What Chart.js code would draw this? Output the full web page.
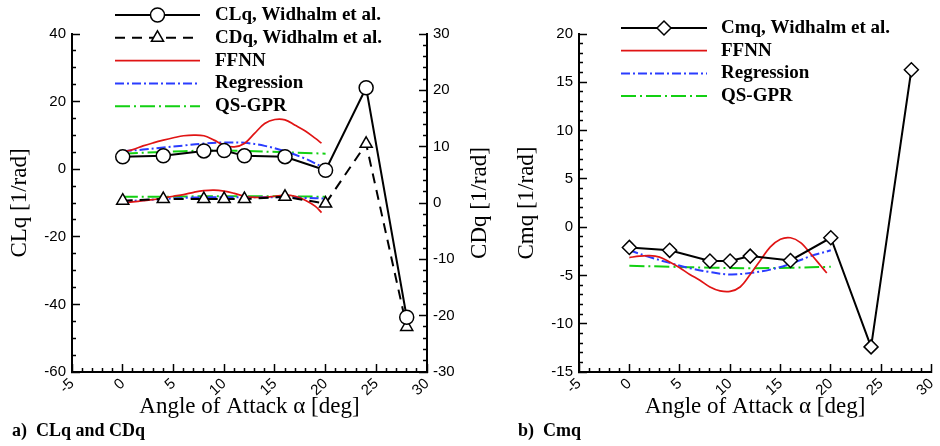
<!DOCTYPE html>
<html>
<head>
<meta charset="utf-8">
<script src="https://cdn.jsdelivr.net/npm/chart.js@4.4.1/dist/chart.umd.min.js"></script>
<style>
  html, body { margin: 0; padding: 0; background: #fff; overflow: hidden; }
  #wrap { position: relative; width: 940px; height: 446px; }
  canvas { position: absolute; top: 0; }
  .caption { position: absolute; top: 420px; font: bold 18px "Liberation Serif", serif; white-space: pre; }
</style>
</head>
<body>
<div id="wrap">
  <canvas id="left-canvas" width="500" height="446" style="left:0px"></canvas>
  <canvas id="right-canvas" width="440" height="446" style="left:500px"></canvas>
  <div class="caption" style="left:12px">a)  CLq and CDq</div>
  <div class="caption" style="left:518px">b)  Cmq</div>
</div>
<script>
// experiment, Widhalm et al.
const alphaExp = [0, 4, 8, 10, 12, 16, 20, 24, 28];
const clqExp = [3.65, 3.95, 5.4, 5.5, 3.95, 3.7, -0.3, 24.1, -43.8];
const cdqExp = [0.4, 0.7, 0.7, 0.7, 0.7, 1.1, -0.1, 10.5, -22.0];
const cmqExp = [-2.1, -2.4, -3.5, -3.5, -3.0, -3.45, -1.1, -12.4, 16.3];

// FFNN
const alphaFfnn = [0, 1, 2, 3, 4, 5, 6, 7, 8, 9, 10, 11, 12, 13, 14, 15, 16, 17, 18, 19, 19.6];
const clqFfnn = [5.2, 5.8, 6.9, 7.8, 8.6, 9.3, 9.9, 10.1, 9.9, 8.6, 7.1, 6.6, 7.6, 10.6, 13.5, 14.7, 14.6, 13.0, 11.3, 9.1, 7.7];
const cdqFfnn = [0.0, 0.2, 0.4, 0.6, 0.9, 1.2, 1.5, 1.9, 2.2, 2.3, 2.1, 1.7, 1.2, 1.0, 1.0, 1.2, 1.4, 1.2, 0.5, -0.6, -1.7];
const cmqFfnn = [-3.15, -3.0, -2.95, -3.1, -3.6, -4.2, -4.9, -5.5, -6.2, -6.6, -6.65, -6.2, -4.9, -3.45, -2.05, -1.25, -1.1, -1.6, -2.75, -4.0, -4.75];

// Regression
const alphaReg = [0, 2, 4, 6, 8, 10, 12, 14, 16, 18, 20];
const clqReg = [5.3, 5.8, 6.4, 7.0, 7.6, 7.9, 7.8, 6.9, 5.3, 3.1, 0.2];
const cdqReg = [0.3, 0.5, 0.7, 0.9, 1.0, 1.0, 1.0, 1.0, 1.0, 0.9, 0.8];
const cmqReg = [-2.4, -3.1, -3.7, -4.25, -4.65, -4.9, -4.75, -4.4, -3.8, -3.0, -2.4];

// QS-GPR
const alphaGpr = [0, 4, 8, 12, 16, 20];
const clqGpr = [4.6, 5.1, 5.5, 5.4, 5.0, 4.6];
const cdqGpr = [1.1, 1.1, 1.2, 1.2, 1.2, 1.1];
const cmqGpr = [-4.0, -4.1, -4.2, -4.25, -4.2, -4.1];

const RED = '#e01414';
const BLUE = '#2a3cff';
const GREEN = '#12d012';

function pts(xs, ys) {
    return xs.map((x, i) => ({x: x, y: ys[i]}));
}

Chart.defaults.font.family = '"Liberation Sans", Arial, sans-serif';
Chart.defaults.font.size = 15;
Chart.defaults.color = '#000';

const TICK_LEN = 8;

function isMajor(v, major) {
    return Math.abs(v / major - Math.round(v / major)) < 1e-6;
}

// inward tick marks via a negative tickLength; minor ones shortened with a dash
// (left axes draw their ticks from the inner end, the others from the axis side)
function tickGrid(major, fromInner) {
    return {
        display: true,
        drawOnChartArea: false,
        drawTicks: true,
        tickLength: -TICK_LEN,
        tickColor: '#000',
        tickWidth: 1.5,
        tickBorderDash: c => {
            if (!c.tick || isMajor(c.tick.value, major)) return [];
            return fromInner ? [0, 4, 6, 100] : [5, 100];
        }
    };
}

function tickLabels(major, minor, pad) {
    return {
        stepSize: minor,
        autoSkip: false,
        padding: pad + TICK_LEN,
        callback: v => isMajor(v, major) ? String(v) : ''
    };
}

// Tecplot style line legend (+ rotated right-axis title)
function makeLegend(pos, sideTitle) {
    return {
        id: 'lineLegend',
        afterDraw(chart) {
            const ctx = chart.ctx;
            let row = 0;
            ctx.save();
            chart.data.datasets.forEach(ds => {
                if (ds.legend === false) return;
                const y = pos.y0 + row * pos.dy;
                ctx.strokeStyle = ds.borderColor;
                ctx.lineWidth = ds.borderWidth;
                ctx.setLineDash(ds.borderDash || []);
                ctx.beginPath();
                ctx.moveTo(pos.x0, y);
                ctx.lineTo(pos.x1, y);
                ctx.stroke();
                if (ds.pointRadius > 0) {
                    ctx.setLineDash([]);
                    ctx.fillStyle = ds.pointBackgroundColor;
                    ctx.strokeStyle = ds.pointBorderColor;
                    ctx.lineWidth = ds.pointBorderWidth;
                    Chart.helpers.drawPoint(ctx, {
                        pointStyle: ds.pointStyle, radius: ds.pointRadius,
                        borderWidth: ds.pointBorderWidth, rotation: 0
                    }, (pos.x0 + pos.x1) / 2, y);
                }
                ctx.fillStyle = '#000';
                ctx.font = 'bold 19px "Liberation Serif", serif';
                ctx.textBaseline = 'middle';
                ctx.textAlign = 'left';
                ctx.fillText(ds.label, pos.textX, y);
                row++;
            });
            if (sideTitle) {
                ctx.translate(sideTitle.x, sideTitle.y);
                ctx.rotate(-Math.PI / 2);
                ctx.font = '23px "Liberation Serif", serif';
                ctx.textAlign = 'center';
                ctx.textBaseline = 'middle';
                ctx.fillStyle = '#000';
                ctx.fillText(sideTitle.text, 0, 0);
            }
            ctx.restore();
        }
    };
}

function expSet(label, xs, ys, style, dash, axis) {
    return {
        label: label, data: pts(xs, ys), yAxisID: axis,
        borderColor: '#000', borderWidth: 2, borderDash: dash,
        pointStyle: style, pointRadius: 7, pointBorderWidth: 1.5,
        pointBackgroundColor: '#fff', pointBorderColor: '#000',
        tension: 0
    };
}

function fitSet(label, xs, ys, color, dash, axis, legend) {
    return {
        label: label, data: pts(xs, ys), yAxisID: axis, legend: legend,
        borderColor: color, borderWidth: color === RED ? 1.7 : 2, borderDash: dash,
        pointRadius: 0, tension: 0.35
    };
}

const axisTitleFont = {family: '"Liberation Serif", serif', size: 23};
const axisBorder = {display: true, color: '#000', width: 2};

function xScale() {
    return {
        type: 'linear', position: 'bottom', min: -5, max: 30,
        ticks: tickLabels(5, 1, 3),
        grid: tickGrid(5, false),
        border: axisBorder,
        title: {display: true, text: 'Angle of Attack α [deg]', font: axisTitleFont, color: '#000',
                padding: {top: 0, bottom: 25}},
        afterFit: s => { s.height = 74; s.paddingLeft = 0; s.paddingRight = 0; }
    };
}

const leftChart = new Chart(document.getElementById('left-canvas'), {
    type: 'line',
    data: {
        datasets: [
            expSet('CLq, Widhalm et al.', alphaExp, clqExp, 'circle', [], 'y'),
            expSet('CDq, Widhalm et al.', alphaExp, cdqExp, 'triangle', [10, 7], 'y2'),
            fitSet('FFNN', alphaFfnn, clqFfnn, RED, [], 'y', true),
            fitSet('Regression', alphaReg, clqReg, BLUE, [9, 3, 2, 3], 'y', true),
            fitSet('QS-GPR', alphaGpr, clqGpr, GREEN, [15, 4, 2, 4], 'y', true),
            fitSet('FFNN', alphaFfnn, cdqFfnn, RED, [], 'y2', false),
            fitSet('Regression', alphaReg, cdqReg, BLUE, [9, 3, 2, 3], 'y2', false),
            fitSet('QS-GPR', alphaGpr, cdqGpr, GREEN, [15, 4, 2, 4], 'y2', false)
        ]
    },
    options: {
        responsive: false,
        animation: false,
        layout: {padding: {top: 34, left: 0, right: 0, bottom: 0}},
        plugins: {
            legend: {display: false},
            tooltip: {enabled: false}
        },
        scales: {
            x: xScale(),
            y: {
                type: 'linear', position: 'left', min: -60, max: 40,
                ticks: tickLabels(20, 5, 6),
                grid: tickGrid(20, true),
                border: axisBorder,
                title: {display: true, text: 'CLq [1/rad]', font: axisTitleFont, color: '#000',
                        padding: {top: 6, bottom: 0}},
                afterFit: s => { s.width = 72; }
            },
            y2: {
                type: 'linear', position: 'right', min: -30, max: 30,
                ticks: tickLabels(10, 2, 6),
                grid: tickGrid(10, false),
                border: axisBorder,
                afterFit: s => { s.width = 73; }
            }
        }
    },
    plugins: [
        makeLegend({x0: 115, x1: 200, textX: 215, y0: 15, dy: 22.8},
                   {text: 'CDq [1/rad]', x: 480, y: 203})
    ]
});

const rightChart = new Chart(document.getElementById('right-canvas'), {
    type: 'line',
    data: {
        datasets: [
            expSet('Cmq, Widhalm et al.', alphaExp, cmqExp, 'rectRot', [], 'y'),
            fitSet('FFNN', alphaFfnn, cmqFfnn, RED, [], 'y', true),
            fitSet('Regression', alphaReg, cmqReg, BLUE, [9, 3, 2, 3], 'y', true),
            fitSet('QS-GPR', alphaGpr, cmqGpr, GREEN, [15, 4, 2, 4], 'y', true)
        ]
    },
    options: {
        responsive: false,
        animation: false,
        layout: {padding: {top: 34, left: 0, right: 6, bottom: 0}},
        plugins: {
            legend: {display: false},
            tooltip: {enabled: false}
        },
        scales: {
            x: xScale(),
            y: {
                type: 'linear', position: 'left', min: -15, max: 20,
                ticks: tickLabels(5, 1, 6),
                grid: tickGrid(5, true),
                border: axisBorder,
                title: {display: true, text: 'Cmq [1/rad]', font: axisTitleFont, color: '#000',
                        padding: {top: 13, bottom: 0}},
                afterFit: s => { s.width = 79; }
            }
        }
    },
    plugins: [
        makeLegend({x0: 121, x1: 207, textX: 221, y0: 28, dy: 22.7}, null)
    ]
});
</script>
</body>
</html>
